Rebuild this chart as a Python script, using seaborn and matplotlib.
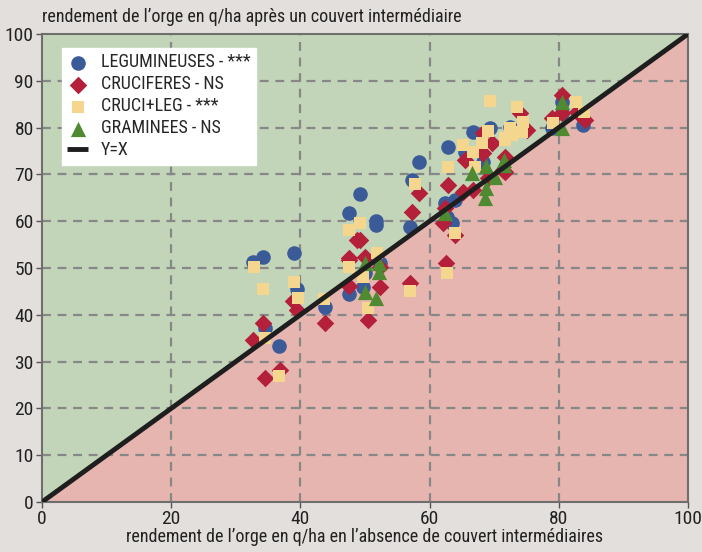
import matplotlib
matplotlib.use("Agg")
import matplotlib.pyplot as plt
from matplotlib import font_manager
import seaborn as sns
import pandas as pd

# yields without cover (x) / after cover crop (y), q/ha
leg_x = [32.7, 34.2, 39.0, 39.5, 34.5, 36.7, 43.8, 58.4, 57.3, 49.2, 47.5, 51.7, 51.7, 57.0,
         47.5, 50.0, 52.3, 49.7, 62.8, 66.7, 69.3, 65.5, 68.3, 62.4, 63.9, 62.7, 63.5, 72.4,
         74.0, 80.5, 80.5, 78.9, 83.7]
leg_y = [51.3, 52.4, 53.2, 45.5, 37.2, 33.3, 41.7, 72.6, 68.8, 65.8, 61.8, 60.0, 59.2, 58.8,
         44.4, 48.9, 51.1, 45.9, 75.9, 79.1, 79.9, 74.8, 72.6, 63.9, 64.5, 60.9, 59.6, 80.1,
         79.5, 85.5, 83.1, 79.9, 80.6]

cru_x = [32.7, 34.2, 34.5, 36.8, 38.9, 39.5, 43.8, 47.5, 47.5, 48.8, 58.4, 57.3, 49.2, 50.0,
         47.5, 52.3, 52.3, 57.0, 50.5, 68.3, 69.7, 65.5, 68.3, 62.8, 65.2, 66.7, 69.0, 71.7,
         71.7, 62.4, 62.1, 63.9, 62.5, 80.5, 80.5, 78.9, 82.8, 84.1, 71.4, 74.0, 75.1]
cru_y = [34.6, 38.2, 26.5, 28.2, 42.9, 41.0, 38.2, 51.7, 46.2, 56.0, 66.0, 62.0, 56.0, 52.4,
         52.1, 50.2, 45.9, 46.8, 38.9, 78.8, 76.7, 73.1, 74.6, 67.7, 66.2, 66.7, 69.2, 73.7,
         70.5, 62.8, 59.6, 57.1, 51.1, 87.0, 83.1, 82.1, 83.3, 81.6, 70.9, 83.1, 79.5]

cl_x = [32.8, 34.2, 39.0, 39.6, 34.5, 36.7, 43.7, 47.5, 47.5, 57.7, 49.2, 51.9, 49.7, 50.5,
        57.0, 62.8, 65.2, 66.7, 68.1, 69.0, 67.0, 71.7, 72.4, 63.9, 62.7, 73.5, 74.5, 74.3,
        71.7, 72.8, 79.1, 82.7, 83.9, 69.3]
cl_y = [50.2, 45.5, 47.0, 43.6, 35.0, 26.9, 43.4, 50.2, 58.1, 67.9, 59.6, 53.2, 48.1, 41.5,
        45.1, 71.6, 76.3, 74.8, 76.7, 79.3, 71.6, 77.4, 79.9, 57.5, 48.9, 84.4, 81.2, 79.1,
        77.8, 78.4, 81.0, 85.5, 83.3, 85.7]

gra_x = [50.0, 52.2, 52.2, 50.0, 51.7, 62.4, 66.6, 68.7, 70.1, 68.7, 68.6, 71.5, 71.5,
         80.5, 80.5]
gra_y = [51.1, 51.1, 49.1, 44.9, 43.6, 61.8, 70.3, 71.8, 69.4, 67.1, 65.0, 73.1, 72.0,
         85.5, 79.9]

series = [
    ("LEGUMINEUSES - ***", leg_x, leg_y, "o", "#3a5a98", 110),
    ("CRUCIFERES - NS", cru_x, cru_y, "D", "#b41f3a", 80),
    ("CRUCI+LEG - ***", cl_x, cl_y, "s", "#f5d68e", 75),
    ("GRAMINEES - NS", gra_x, gra_y, "^", "#4f8a33", 120),
]

sns.set_style("white")

# narrow font if one is around, else a plain sans at a smaller size
names = {f.name for f in font_manager.fontManager.ttflist}
narrow = [n for n in ["Liberation Sans Narrow", "Arial Narrow", "DejaVu Sans Condensed",
                      "Roboto Condensed", "Noto Sans Condensed", "Open Sans Condensed"]
          if n in names]
if narrow:
    plt.rcParams["font.family"] = [narrow[0], "DejaVu Sans"]
    fs = 13
else:
    plt.rcParams["font.family"] = ["Liberation Sans", "DejaVu Sans"]
    fs = 11

fig = plt.figure(figsize=(7.02, 5.52), dpi=100, facecolor="#e3dfdc")
ax = fig.add_axes([42 / 702, 1 - 502 / 552, 646 / 702, 468 / 552])

lims = [0, 100]
ax.fill_between(lims, lims, [100, 100], color="#c3d5b9", zorder=0, lw=0)
ax.fill_between(lims, [0, 0], lims, color="#e6b5af", zorder=0, lw=0)

for x in [20, 40, 60, 80]:
    ax.axvline(x, color="#878787", ls=(0, (4, 3)), lw=1.6, zorder=1)
for y in range(10, 100, 10):
    ax.axhline(y, color="#878787", ls=(0, (4, 3)), lw=1.6, zorder=1)

for label, xs, ys, m, c, s in series:
    df = pd.DataFrame({"x": xs, "y": ys})
    sns.scatterplot(data=df, x="x", y="y", marker=m, color=c, s=s, linewidth=0,
                    ax=ax, label=label, zorder=3)

ax.plot(lims, lims, color="#1e1e1e", lw=3.5, label="Y=X", zorder=4, solid_capstyle="butt")

ax.set_xlim(0, 100)
ax.set_ylim(0, 100)
ax.set_xticks(range(0, 101, 20))
ax.set_yticks(range(0, 101, 10))
ax.tick_params(axis="both", direction="out", length=4, width=1, color="#555555",
               labelsize=fs + 1, labelcolor="#222222", pad=2, left=True, bottom=True)
for sp in ax.spines.values():
    sp.set_color("#6e6e6e")
    sp.set_linewidth(1.5)

ax.set_xlabel("rendement de l’orge en q/ha en l’absence de couvert intermédiaires",
              fontsize=fs, color="#222222", labelpad=0)
ax.set_ylabel("")
fig.text(42 / 702, 1 - 17 / 552, "rendement de l’orge en q/ha après un couvert intermédiaire",
         fontsize=fs, color="#222222", va="center", ha="left")

leg = ax.legend(loc="upper left", bbox_to_anchor=(0.031, 0.970), frameon=True, fancybox=False,
                fontsize=fs, handlelength=1.15, handletextpad=0.7, labelspacing=0.22,
                borderpad=0.3, borderaxespad=0, framealpha=1, edgecolor="white")
leg.set_zorder(5)

fig.savefig("out.png", dpi=100, facecolor=fig.get_facecolor())
